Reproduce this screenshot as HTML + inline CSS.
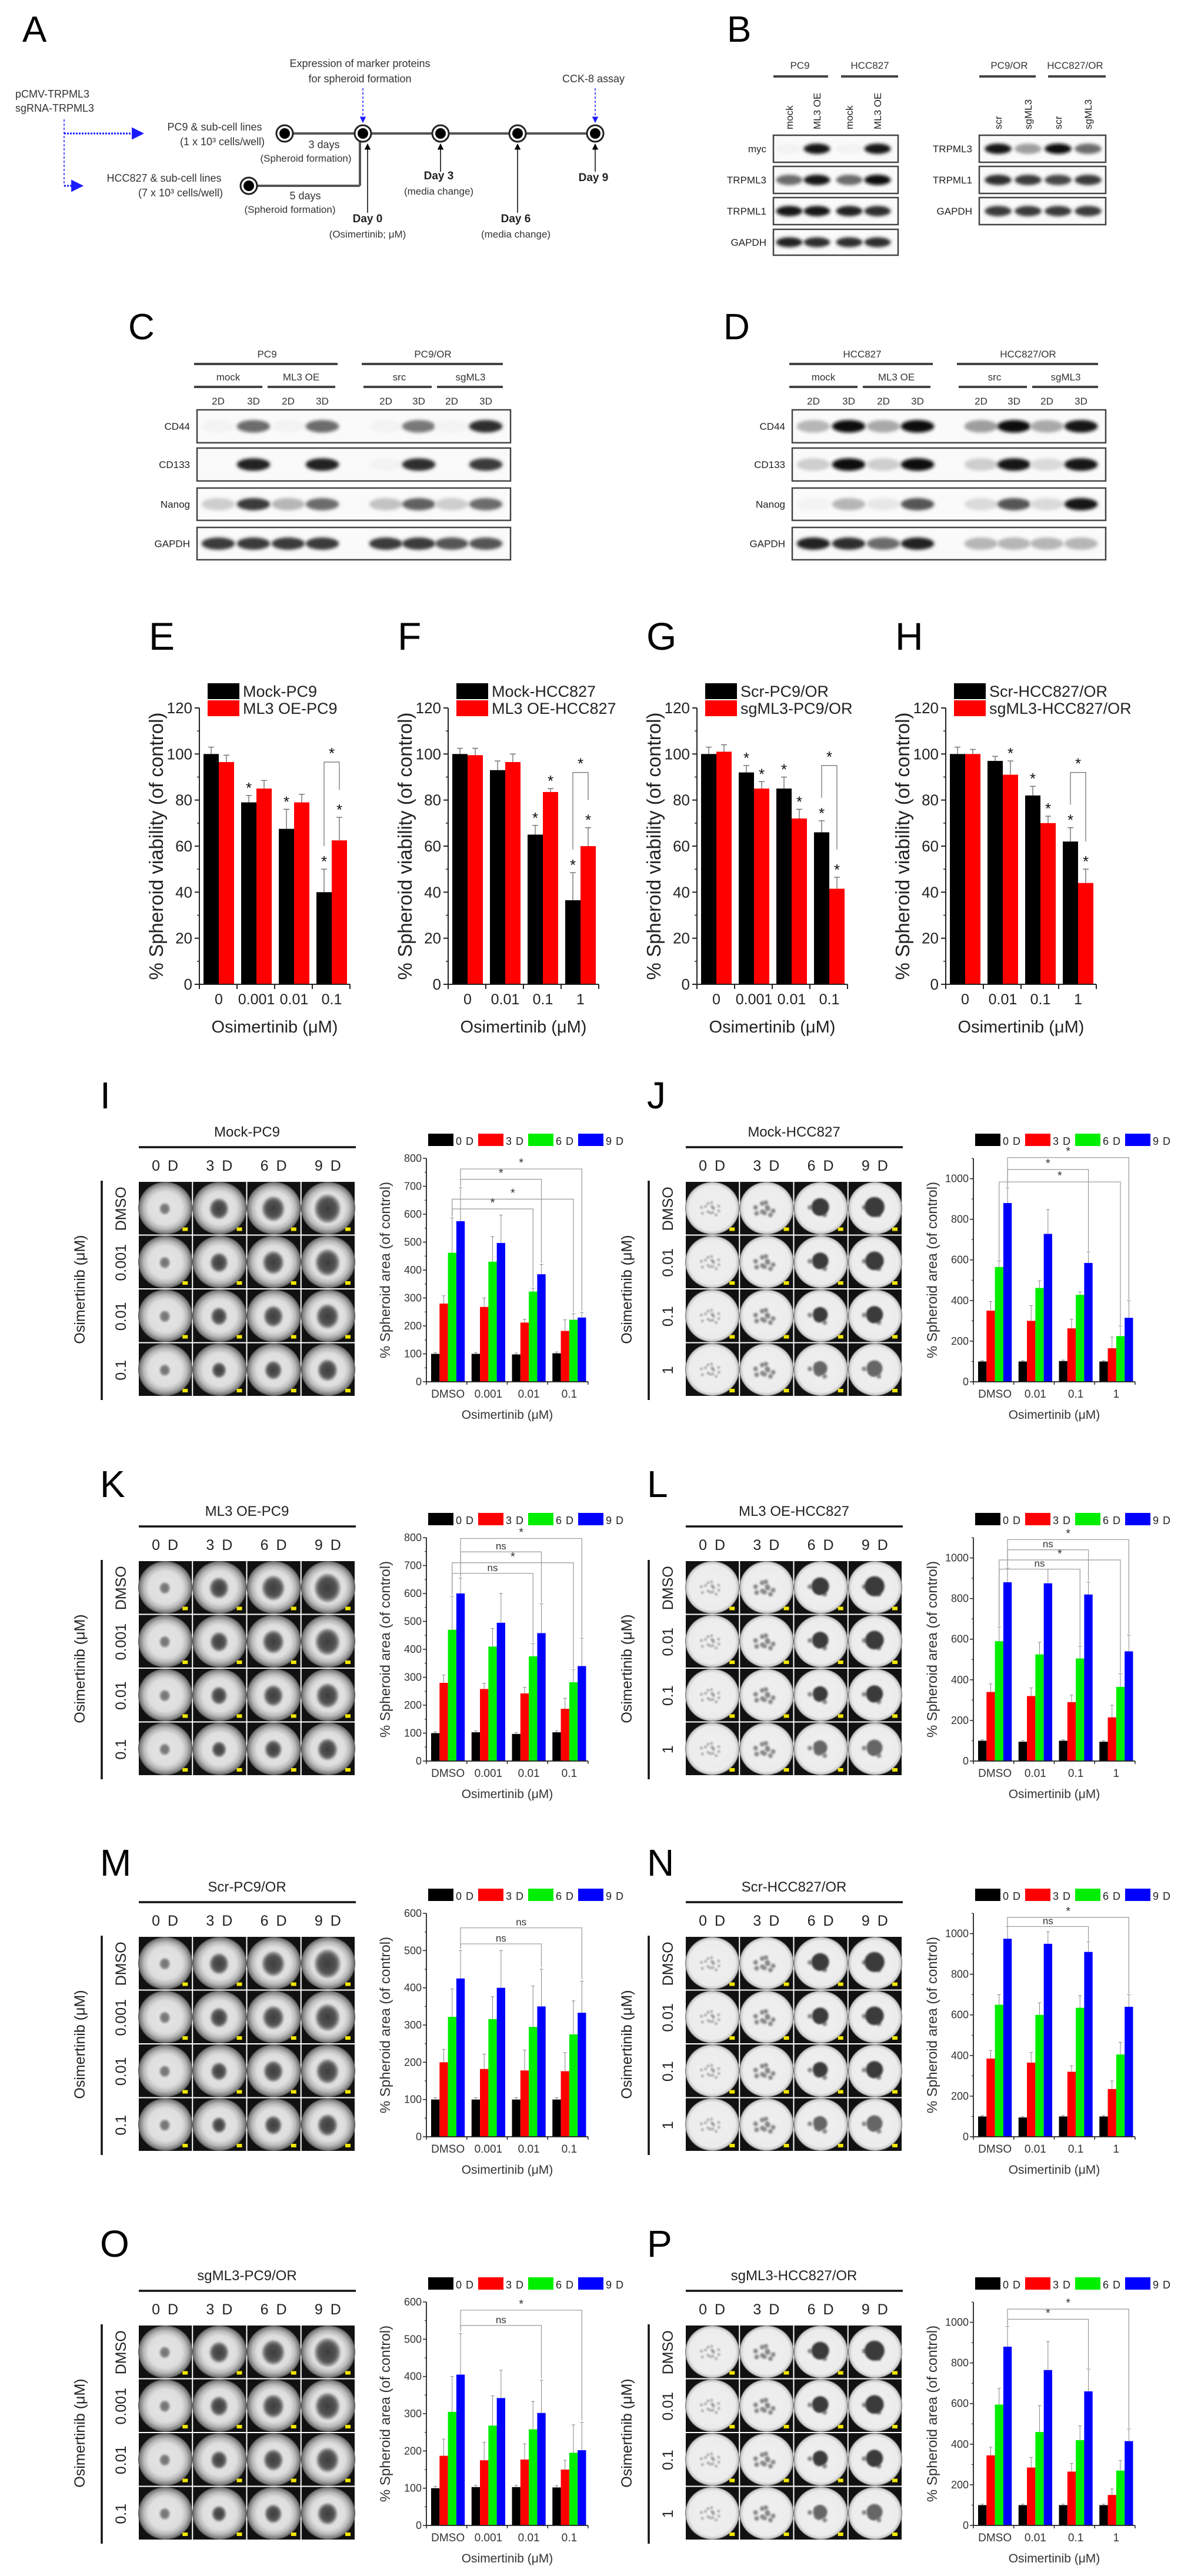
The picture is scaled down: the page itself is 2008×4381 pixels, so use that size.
<!DOCTYPE html>
<html><head><meta charset="utf-8">
<style>
html,body{margin:0;padding:0;background:#fff;}
svg{display:block;font-family:"Liberation Sans",Arial,sans-serif;}
</style></head>
<body>
<svg id="fig" xmlns="http://www.w3.org/2000/svg" width="2008" height="4381" viewBox="0 0 2008 4381">
<defs>
<filter id="blur3" x="-50%" y="-50%" width="200%" height="200%"><feGaussianBlur stdDeviation="3"/></filter>
<filter id="blur2" x="-50%" y="-50%" width="200%" height="200%"><feGaussianBlur stdDeviation="1.6"/></filter>
<radialGradient id="wellA" cx="50%" cy="50%" r="50%">
<stop offset="0" stop-color="#e6e6e6"/><stop offset="0.62" stop-color="#dedede"/><stop offset="0.8" stop-color="#b8b8b8"/><stop offset="0.95" stop-color="#7a7a7a"/><stop offset="1" stop-color="#444"/></radialGradient>
<radialGradient id="wellB" cx="50%" cy="50%" r="50%">
<stop offset="0" stop-color="#f0f0f0"/><stop offset="0.85" stop-color="#ececec"/><stop offset="0.96" stop-color="#c8c8c8"/><stop offset="1" stop-color="#555"/></radialGradient>
<radialGradient id="blobG" cx="50%" cy="50%" r="50%">
<stop offset="0" stop-color="#3c3c3c"/><stop offset="0.7" stop-color="#555"/><stop offset="1" stop-color="#888" stop-opacity="0.6"/></radialGradient>
<radialGradient id="blobG0" cx="50%" cy="50%" r="50%">
<stop offset="0" stop-color="#707070"/><stop offset="0.75" stop-color="#808080"/><stop offset="1" stop-color="#aaa" stop-opacity="0.6"/></radialGradient>
<marker id="arrBlk" viewBox="0 0 10 10" refX="9" refY="5" markerWidth="7" markerHeight="7" orient="auto"><path d="M0,0 L10,5 L0,10 z" fill="#000"/></marker>
<marker id="arrBlu" viewBox="0 0 10 10" refX="9" refY="5" markerWidth="7" markerHeight="7" orient="auto"><path d="M0,0 L10,5 L0,10 z" fill="#1a1aff"/></marker>
</defs>
</svg>
<script>
// ===== Viability charts E-H data =====
const catsE = ['0','0.001','0.01','0.1'];
const mockE = [100,79,67.5,40];
const oeE = [96.5,85,79,62.5];
const mockEerr = [3,3,8.5,10];
const oeEerr = [3,3.5,3.5,10];
const catsF = ['0','0.01','0.1','1'];
const mockF = [100,93,65,36.5];
const oeF = [99.5,96.5,83.5,60];
const mockFerr = [2.5,4,4,12];
const oeFerr = [3,3.5,1.5,8];
const catsG = ['0','0.001','0.01','0.1'];
const scrG = [100,92,85,66];
const sgG = [101,85,72,41.5];
const scrGerr = [3,3,5,5];
const sgGerr = [3,3,4,5];
const catsH = ['0','0.01','0.1','1'];
const scrH = [100,97,82,62];
const sgH = [100,91,70,44];
const scrHerr = [3,2,4,6];
const sgHerr = [2,6,3,6];
const viaTicks = [0,20,40,60,80,100,120];
// ===== Spheroid area charts I-P data =====
const catsPC = ['DMSO','0.001','0.01','0.1'];
const catsHC = ['DMSO','0.01','0.1','1'];
const areaTicksA = [0,100,200,300,400,500,600,700,800];
const areaTicksB = [0,200,400,600,800,1000];
const areaTicksC = [0,100,200,300,400,500,600];
const iD0=[100,100,98,102], iD3=[280,268,212,182], iD6=[462,430,323,222], iD9=[575,497,385,230];
const iE3=[28,32,12,40], iE6=[125,90,12,22], iE9=[120,100,35,18];
const jD0=[100,100,102,100], jD3=[350,300,263,165], jD6=[565,462,428,225], jD9=[880,728,585,315];
const jE3=[45,75,45,55], jE6=[30,35,15,50], jE9=[75,120,55,85];
const kD0=[100,103,97,103], kD3=[280,258,242,187], kD6=[470,410,375,282], kD9=[600,495,458,340];
const kE3=[28,20,22,38], kE6=[120,65,45,45], kE9=[55,105,105,100];
const lD0=[100,95,100,95], lD3=[340,320,290,215], lD6=[590,525,505,365], lD9=[880,875,820,540];
const lE3=[40,40,35,60], lE6=[70,60,60,65], lE9=[70,70,60,80];
const mD0=[100,100,100,100], mD3=[200,182,178,176], mD6=[322,316,295,275], mD9=[425,400,350,333];
const mE3=[35,40,55,50], mE6=[75,60,110,90], mE9=[75,100,100,85];
const nD0=[100,95,100,100], nD3=[385,365,320,235], nD6=[650,600,635,405], nD9=[975,950,910,640];
const nE3=[40,50,30,40], nE6=[50,60,60,60], nE9=[60,60,50,60];
const oD0=[100,103,103,102], oD3=[187,175,177,150], oD6=[305,268,258,195], oD9=[405,342,302,202];
const oE3=[45,48,42,25], oE6=[95,80,75,75], oE9=[110,75,88,75];
const pD0=[100,100,100,100], pD3=[345,285,265,150], pD6=[595,460,420,270], pD9=[880,765,660,415];
const pE3=[40,50,40,30], pE6=[80,130,70,50], pE9=[100,140,110,60];
const e0=[5,5,5,5];
// brackets: [group1, bar1, group2, bar2, level, label]
const iBr=[[0,3,3,3,762,'*'],[0,3,2,3,725,'*'],[0,2,3,2,654,'*'],[0,2,2,2,619,'*']];
const jBr=[[0,3,3,3,1104,'*'],[0,3,2,3,1045,'*'],[0,2,3,2,984,'*']];
const kBr=[[0,3,3,3,797,'*'],[0,3,2,3,749,'ns'],[0,2,3,2,710,'*'],[0,2,2,2,672,'ns']];
const lBr=[[0,3,3,3,1090,'*'],[0,3,2,3,1040,'ns'],[0,2,3,2,990,'*'],[0,2,2,2,945,'ns']];
const mBr=[[0,3,3,3,561,'ns'],[0,3,2,3,518,'ns']];
const nBr=[[0,3,3,3,1080,'*'],[0,3,2,3,1035,'ns']];
const oBr=[[0,3,3,3,578,'*'],[0,3,2,3,537,'ns']];
const pBr=[[0,3,3,3,1065,'*'],[0,3,2,3,1015,'*']];

const NS='http://www.w3.org/2000/svg';
const svg=document.getElementById('fig');
function mk(tag, attrs, name, parent){
  const e=document.createElementNS(NS,tag);
  for(const k in attrs) e.setAttribute(k, attrs[k]);
  
  
  (parent||svg).appendChild(e);
  return e;
}
function txt(x,y,s,size,name,opt){
  opt=opt||{};
  const a={x:x,y:y,'font-size':size,fill:opt.fill||'#111','text-anchor':opt.anchor||'middle'};
  if(opt.weight) a['font-weight']=opt.weight;
  if(opt.rot!==undefined) a.transform='rotate('+opt.rot+' '+x+' '+y+')';
  if(opt.ls) a['letter-spacing']=opt.ls;
  const t=mk('text',a,name,opt.parent);
  t.textContent=s;
  return t;
}
function line(x1,y1,x2,y2,w,col,name,extra){
  const a={x1:x1,y1:y1,x2:x2,y2:y2,stroke:col||'#000','stroke-width':w};
  if(extra) for(const k in extra) a[k]=extra[k];
  return mk('line',a,name);
}

// ================= Panel A =================
txt(38,71,'A',62,'panel-label-a',{anchor:'start',fill:'#000'});
txt(26,166,'pCMV-TRPML3',18,'construct-label-overexpression',{anchor:'start',fill:'#333'});
txt(26,190,'sgRNA-TRPML3',18,'construct-label-knockout',{anchor:'start',fill:'#333'});
line(109,203,109,316,1.5,'#1a1aff','blue-dashed-branch',{'stroke-dasharray':'4 3'});
line(109,227,243,227,3,'#1a1aff','blue-arrow-pc9',{'stroke-dasharray':'3 2','marker-end':'url(#arrBlu)'});
line(109,316,140,316,3,'#1a1aff','blue-arrow-hcc827',{'stroke-dasharray':'3 2','marker-end':'url(#arrBlu)'});
txt(365,222,'PC9 & sub-cell lines',18,'pc9-seeding-label',{fill:'#333'});
txt(378,247,'(1 x 10³ cells/well)',18,'pc9-density-label',{fill:'#333'});
txt(279,309,'HCC827 & sub-cell lines',18,'hcc827-seeding-label',{fill:'#333'});
txt(307,334,'(7 x 10³ cells/well)',18,'hcc827-density-label',{fill:'#333'});
line(484,227,1012,227,4,'#555','timeline-line');
line(423,316,612,316,4,'#555','hcc827-timeline-line');
line(612,316,612,240,4,'#555','hcc827-timeline-riser');
const tlX=[484,617,749,880,1012];
tlX.forEach((x,i)=>{
  mk('circle',{cx:x,cy:227,r:14,fill:'#fff',stroke:'#222','stroke-width':3},'timeline-node');
  mk('circle',{cx:x,cy:227,r:9,fill:'#000'},'timeline-node-core');
});
mk('circle',{cx:423,cy:316,r:14,fill:'#fff',stroke:'#222','stroke-width':3},'hcc827-start-node');
mk('circle',{cx:423,cy:316,r:9,fill:'#000'},'hcc827-start-node-core');
txt(551,252,'3 days',18,'pc9-spheroid-days',{fill:'#333'});
txt(520,275,'(Spheroid formation)',17,'pc9-spheroid-note',{fill:'#333'});
txt(519,339,'5 days',18,'hcc827-spheroid-days',{fill:'#333'});
txt(493,362,'(Spheroid formation)',17,'hcc827-spheroid-note',{fill:'#333'});
line(625,362,625,245,1.5,'#000','day0-arrow',{'marker-end':'url(#arrBlk)'});
line(749,292,749,245,1.5,'#000','day3-arrow',{'marker-end':'url(#arrBlk)'});
line(880,362,880,245,1.5,'#000','day6-arrow',{'marker-end':'url(#arrBlk)'});
line(1012,292,1012,245,1.5,'#000','day9-arrow',{'marker-end':'url(#arrBlk)'});
txt(625,378,'Day 0',19,'day0-label',{weight:'bold',fill:'#222'});
txt(625,404,'(Osimertinib; μM)',17,'day0-note',{fill:'#333'});
txt(746,305,'Day 3',19,'day3-label',{weight:'bold',fill:'#222'});
txt(746,331,'(media change)',17,'day3-note',{fill:'#333'});
txt(877,378,'Day 6',19,'day6-label',{weight:'bold',fill:'#222'});
txt(877,404,'(media change)',17,'day6-note',{fill:'#333'});
txt(1009,308,'Day 9',19,'day9-label',{weight:'bold',fill:'#222'});
txt(612,114,'Expression of marker proteins',18,'marker-expression-label',{fill:'#333'});
txt(612,140,'for spheroid formation',18,'marker-expression-label-2',{fill:'#333'});
txt(1009,140,'CCK-8 assay',18,'cck8-label',{fill:'#333'});
line(617,150,617,208,1.5,'#1a1aff','marker-blue-arrow',{'stroke-dasharray':'4 3','marker-end':'url(#arrBlu)'});
line(1012,150,1012,208,1.5,'#1a1aff','cck8-blue-arrow',{'stroke-dasharray':'4 3','marker-end':'url(#arrBlu)'});

// ================= Blots =================
function band(cx,cy,w,h,k,name){
  if(k<=0.02) return;
  const g=Math.round(255-k*245);
  mk('ellipse',{cx:cx,cy:cy,rx:w/2,ry:h/2,fill:'rgb('+g+','+g+','+g+')',filter:'url(#blur3)'},name);
}
function blotBox(x1,x2,y1,y2,label,lanes,ints,name){
  mk('rect',{x:x1,y:y1,width:x2-x1,height:y2-y1,fill:'#fafafa',stroke:'#444','stroke-width':2.5},name+'-box');
  const cy=(y1+y2)/2;
  lanes.forEach((lx,i)=>band(lx,cy,(x2-x1)/lanes.length*0.85,(y2-y1)*0.38,ints[i],name+'-band'));
  txt(x1-12,cy+6,label,17,name+'-label',{anchor:'end',fill:'#222'});
}
txt(1236,71,'B',62,'panel-label-b',{anchor:'start',fill:'#000'});
const bL1=[1342,1389,1444,1492], bL2=[1697,1748,1799,1850];
txt(1360,117,'PC9',17,'b-header-pc9',{fill:'#333'});
txt(1479,117,'HCC827',17,'b-header-hcc827',{fill:'#333'});
line(1315,130,1408,130,4,'#444','b-header-line-pc9');
line(1430,130,1527,130,4,'#444','b-header-line-hcc827');
txt(1716,117,'PC9/OR',17,'b-header-pc9or',{fill:'#333'});
txt(1828,117,'HCC827/OR',17,'b-header-hcc827or',{fill:'#333'});
line(1665,130,1761,130,4,'#444','b-header-line-pc9or');
line(1782,130,1880,130,4,'#444','b-header-line-hcc827or');
['mock','ML3 OE','mock','ML3 OE'].forEach((s,i)=>txt(bL1[i]+6,220,s,17,'b-lane-label',{anchor:'start',rot:-90,fill:'#222'}));
['scr','sgML3','scr','sgML3'].forEach((s,i)=>txt(bL2[i]+6,220,s,17,'b-lane-label',{anchor:'start',rot:-90,fill:'#222'}));
blotBox(1315,1527,230,276,'myc',bL1,[0.05,0.95,0.05,0.95],'b-blot-myc');
blotBox(1315,1527,283,329,'TRPML3',bL1,[0.6,0.95,0.6,1],'b-blot-trpml3');
blotBox(1315,1527,336,382,'TRPML1',bL1,[0.95,0.95,0.9,0.85],'b-blot-trpml1');
blotBox(1315,1527,390,434,'GAPDH',bL1,[0.9,0.85,0.85,0.85],'b-blot-gapdh');
blotBox(1665,1880,230,276,'TRPML3',bL2,[0.95,0.4,1,0.6],'b2-blot-trpml3');
blotBox(1665,1880,283,329,'TRPML1',bL2,[0.85,0.8,0.75,0.8],'b2-blot-trpml1');
blotBox(1665,1880,336,382,'GAPDH',bL2,[0.8,0.8,0.8,0.8],'b2-blot-gapdh');

function cdPanel(dx,letter,h1,h2,ints,pref){
  txt(218+dx,577,letter,62,'panel-label-'+pref,{anchor:'start',fill:'#000'});
  txt(454+dx,608,h1,17,pref+'-header-parent',{fill:'#333'});
  txt(736+dx,608,h2,17,pref+'-header-resistant',{fill:'#333'});
  line(330+dx,619,574+dx,619,4,'#444',pref+'-header-line');
  line(615+dx,619,855+dx,619,4,'#444',pref+'-header-line');
  [['mock',388],['ML3 OE',512],['src',679],['sgML3',800]].forEach(a=>txt(a[1]+dx,647,a[0],17,pref+'-group-label',{fill:'#333'}));
  [[330,446],[455,570],[618,734],[743,855]].forEach(a=>line(a[0]+dx,658,a[1]+dx,658,4,'#444',pref+'-group-line'));
  const lanes=[371,431,490,548,656,712,768,826].map(v=>v+dx);
  lanes.forEach((x,i)=>txt(x,688,i%2?'3D':'2D',17,pref+'-lane-label',{fill:'#333'}));
  blotBox(335+dx,868+dx,697,753,'CD44',lanes,ints[0],pref+'-blot-cd44');
  blotBox(335+dx,868+dx,762,818,'CD133',lanes,ints[1],pref+'-blot-cd133');
  blotBox(335+dx,868+dx,830,885,'Nanog',lanes,ints[2],pref+'-blot-nanog');
  blotBox(335+dx,868+dx,897,952,'GAPDH',lanes,ints[3],pref+'-blot-gapdh');
}
cdPanel(0,'C','PC9','PC9/OR',[[0.05,0.6,0.05,0.6,0.05,0.55,0.05,0.85],[0,0.9,0,0.9,0.05,0.85,0,0.8],[0.2,0.8,0.3,0.6,0.25,0.65,0.2,0.6],[0.8,0.8,0.8,0.8,0.8,0.8,0.7,0.7]],'c');
cdPanel(1012,'D','HCC827','HCC827/OR',[[0.3,1,0.35,1,0.4,1,0.35,0.95],[0.2,1,0.2,1,0.2,0.95,0.15,0.95],[0.05,0.3,0.1,0.7,0.15,0.7,0.15,0.95],[0.9,0.85,0.6,0.9,0.3,0.3,0.3,0.3]],'d');

// ================= Viability charts E-H =================
function viaChart(x0,letter,cats,s1,s2,e1,e2,leg1,leg2,st1,st2,pref){
  const x1=x0+256, yT=1204, yZ=1674, max=120;
  const Y=v=>yZ-(v/max)*(yZ-yT);
  const gw=(x1-x0)/cats.length, bw=26, off=7;
  txt(x0-86,1105,letter,66,'panel-label-'+pref,{anchor:'start',fill:'#000'});
  mk('rect',{x:x0+14,y:1162,width:54,height:27,fill:'#000'},pref+'-legend-swatch-1');
  mk('rect',{x:x0+14,y:1191,width:54,height:27,fill:'#ff0000'},pref+'-legend-swatch-2');
  txt(x0+74,1185,leg1,27,pref+'-legend-entry-1',{anchor:'start',fill:'#222'});
  txt(x0+74,1214,leg2,27,pref+'-legend-entry-2',{anchor:'start',fill:'#222'});
  [s1,s2].forEach((s,k)=>{
    const errs=k?e2:e1, stars=k?st2:st1;
    s.forEach((v,i)=>{
      const bx=x0+i*gw+off+k*bw;
      mk('rect',{x:bx,y:Y(v),width:bw,height:yZ-Y(v),fill:k?'#ff0000':'#000'},pref+'-bar-'+(k?'red':'black')+'-'+i);
      const cx=bx+bw/2, top=Y(v+errs[i]);
      line(cx,Y(v),cx,top,1.3,'#666',pref+'-error-bar');
      line(cx-5,top,cx+5,top,1.3,'#666',pref+'-error-cap');
      if(stars[i]) txt(cx,top-4,'*',26,pref+'-sig-star',{fill:'#111'});
    });
  });
  const g=cats.length-1;
  const cxa=x0+g*gw+off+bw/2, cxb=cxa+bw;
  const topb=Math.max(s1[g]+e1[g],s2[g]+e2[g])+24;
  const yb=Y(topb);
  mk('path',{d:'M'+cxa+','+Y(s1[g]+e1[g]+10)+' L'+cxa+','+yb+' L'+cxb+','+yb+' L'+cxb+','+Y(s2[g]+e2[g]+12),fill:'none',stroke:'#777','stroke-width':1.3},pref+'-bracket');
  txt((cxa+cxb)/2,yb-6,'*',26,pref+'-bracket-star',{fill:'#111'});
  line(x0,yT,x0,yZ,2,'#222',pref+'-y-axis');
  line(x0,yZ,x1,yZ,2,'#222',pref+'-x-axis');
  viaTicks.forEach(t=>{
    line(x0-8,Y(t),x0,Y(t),2,'#222',pref+'-y-tick');
    txt(x0-12,Y(t)+9,String(t),26,pref+'-y-tick-label',{anchor:'end',fill:'#222'});
    if(t<max) line(x0-4,Y(t+10),x0,Y(t+10),1.5,'#222',pref+'-y-minor-tick');
  });
  for(let i=0;i<=cats.length;i++) line(x0+i*gw,yZ,x0+i*gw,yZ+8,2,'#222',pref+'-x-tick');
  cats.forEach((c,i)=>txt(x0+i*gw+off+bw,1708,c,25,pref+'-x-tick-label',{fill:'#222'}));
  txt((x0+x1)/2,1756,'Osimertinib (μM)',29,pref+'-x-axis-title',{fill:'#222'});
  txt(x0-62,(yT+yZ)/2,'% Spheroid viability (of control)',33,pref+'-y-axis-title',{rot:-90,fill:'#222'});
}
viaChart(339,'E',catsE,mockE,oeE,mockEerr,oeEerr,'Mock-PC9','ML3 OE-PC9',[0,1,1,1],[0,0,0,1],'e');
viaChart(762,'F',catsF,mockF,oeF,mockFerr,oeFerr,'Mock-HCC827','ML3 OE-HCC827',[0,0,1,1],[0,0,1,1],'f');
viaChart(1185,'G',catsG,scrG,sgG,scrGerr,sgGerr,'Scr-PC9/OR','sgML3-PC9/OR',[0,1,1,1],[0,1,1,1],'g');
viaChart(1608,'H',catsH,scrH,sgH,scrHerr,sgHerr,'Scr-HCC827/OR','sgML3-HCC827/OR',[0,0,1,1],[0,1,1,1],'h');

// ================= Spheroid image grids =================
function spheroidGrid(dx,T,type,rowLabels,title,pref){
  const gx=236+dx, gy=T+87, cw=369/4, ch=366/4;
  txt(420+dx,T+10,title,24,pref+'-panel-title',{fill:'#222'});
  line(236+dx,T+28,605+dx,T+28,3.5,'#111',pref+'-title-line');
  ['0 D','3 D','6 D','9 D'].forEach((s,c)=>txt(gx+cw*c+cw/2,T+68,s,25,pref+'-day-label',{fill:'#222',ls:3}));
  line(173+dx,T+85,173+dx,T+458,3.5,'#111',pref+'-dose-bracket-line');
  txt(144+dx,T+270,'Osimertinib (μM)',25,pref+'-dose-axis-title',{rot:-90,fill:'#222'});
  const fac=[1,0.93,0.85,0.75];
  for(let r=0;r<4;r++){
    txt(205+dx+9,gy+ch*r+ch/2,rowLabels[r],25,pref+'-dose-label',{rot:-90,fill:'#222'});
    for(let c=0;c<4;c++){
      const x=gx+cw*c, y=gy+ch*r, cx=x+cw/2, cy=y+ch/2;
      mk('rect',{x:x,y:y,width:cw-2,height:ch-2,fill:'#111'},pref+'-image-cell');
      mk('ellipse',{cx:cx-1,cy:cy-1,rx:cw/2,ry:ch/2-1,fill:type==='A'?'url(#wellA)':'url(#wellB)'},pref+'-well');
      if(type==='A'){
        const rad=[9,16,19,22][c]*(c===0?1:fac[r]);
        mk('ellipse',{cx:cx-2,cy:cy,rx:rad,ry:rad*1.1,fill:c===0?'url(#blobG0)':'url(#blobG)',filter:'url(#blur2)'},pref+'-spheroid');
      } else {
        const n=[14,10,8,8][c];
        for(let k=0;k<n;k++){
          const a=k*2.39, d=4+ (k%5)*3.2;
          mk('circle',{cx:cx-3+Math.cos(a)*d,cy:cy+Math.sin(a)*d,r:[2,4,4,4][c],fill:'#888',filter:'url(#blur2)'},pref+'-cluster');
        }
        if(c>=2){
          const rad=[0,0,15,17][c]*(r<3?fac[r]:0.8);
          mk('ellipse',{cx:cx-2,cy:cy-3,rx:rad,ry:rad,fill:r===3?'#666':'#3a3a3a',filter:'url(#blur2)'},pref+'-spheroid-mass');
        }
      }
      mk('rect',{x:x+cw-18,y:y+ch-14,width:9,height:6,fill:'#f2e600'},pref+'-scale-bar');
    }
  }
}

// ================= Area charts I-P =================
const colors=['#000','#ff0000','#00ee00','#0000ff'];
function areaChart(dx,T,cats,d0,d3,d6,d9,er0,er3,er6,er9,max,ticks,brs,pref){
  const x0=725+dx, x1=1000+dx, yT=T+47, yZ=T+427;
  const Y=v=>yZ-(v/max)*(yZ-yT);
  const gw=(x1-x0)/4, bw=14.3, off=8;
  ['0 D','3 D','6 D','9 D'].forEach((s,i)=>{
    mk('rect',{x:x0+3+i*85,y:T+5,width:43,height:21,fill:colors[i]},pref+'-legend-swatch');
    txt(x0+50+i*85,T+24,s,18,pref+'-legend-entry',{anchor:'start',fill:'#222',ls:1});
  });
  const ser=[d0,d3,d6,d9], errs=[er0,er3,er6,er9];
  const bx=(g,b)=>x0+g*gw+off+b*bw;
  ser.forEach((s,k)=>s.forEach((v,i)=>{
    const x=bx(i,k);
    mk('rect',{x:x,y:Y(v),width:bw,height:yZ-Y(v),fill:colors[k]},pref+'-bar-day'+(k*3)+'-'+i);
    const cx=x+bw/2, top=Y(v+errs[k][i]);
    line(cx,Y(v),cx,top,1,'#888',pref+'-error-bar');
    line(cx-3,top,cx+3,top,1,'#888',pref+'-error-cap');
  }));
  brs.forEach(b=>{
    const xa=bx(b[0],b[1])+bw/2, xb=bx(b[2],b[3])+bw/2, yb=Y(b[4]);
    const ya=Y(ser[b[1]][b[0]]+errs[b[1]][b[0]]+5), yc=Y(ser[b[3]][b[2]]+errs[b[3]][b[2]]+5);
    mk('path',{d:'M'+xa+','+ya+' L'+xa+','+yb+' L'+xb+','+yb+' L'+xb+','+yc,fill:'none',stroke:'#999','stroke-width':1.2},pref+'-sig-bracket');
    txt((xa+xb)/2,yb-4,b[5],b[5]==='*'?20:17,pref+'-sig-label',{fill:'#333'});
  });
  line(x0,yT,x0,yZ,1.8,'#222',pref+'-y-axis');
  line(x0,yZ,x1,yZ,1.8,'#222',pref+'-x-axis');
  const step=ticks[1]-ticks[0];
  ticks.forEach(t=>{
    line(x0-6,Y(t),x0,Y(t),1.5,'#222',pref+'-y-tick');
    txt(x0-8,Y(t)+6,String(t),18,pref+'-y-tick-label',{anchor:'end',fill:'#333'});
    if(t+step/2<=max) line(x0-3,Y(t+step/2),x0,Y(t+step/2),1.2,'#222',pref+'-y-minor-tick');
  });
  for(let i=0;i<=4;i++) line(x0+i*gw,yZ,x0+i*gw,yZ+5,1.5,'#222',pref+'-x-tick');
  cats.forEach((c,i)=>txt(x0+i*gw+off+2*bw,T+454,c,19,pref+'-x-tick-label',{fill:'#333'}));
  txt((x0+x1)/2,T+490,'Osimertinib (μM)',21,pref+'-x-axis-title',{fill:'#333'});
  txt(x0-62,(yT+yZ)/2,'% Spheroid area (of control)',24,pref+'-y-axis-title',{rot:-90,fill:'#333'});
}
const rows=[
  {T:1923,lb:1885,L:'I',R:'J',tl:'Mock-PC9',tr:'Mock-HCC827'},
  {T:2568,lb:2546,L:'K',R:'L',tl:'ML3 OE-PC9',tr:'ML3 OE-HCC827'},
  {T:3207,lb:3190,L:'M',R:'N',tl:'Scr-PC9/OR',tr:'Scr-HCC827/OR'},
  {T:3868,lb:3838,L:'O',R:'P',tl:'sgML3-PC9/OR',tr:'sgML3-HCC827/OR'}];
rows.forEach(r=>{
  txt(170,r.lb,r.L,64,'panel-label-'+r.L.toLowerCase(),{anchor:'start',fill:'#000'});
  txt(1100,r.lb,r.R,64,'panel-label-'+r.R.toLowerCase(),{anchor:'start',fill:'#000'});
  spheroidGrid(0,r.T,'A',catsPC,r.tl,r.L.toLowerCase()+'-images');
  spheroidGrid(930,r.T,'B',catsHC,r.tr,r.R.toLowerCase()+'-images');
});
areaChart(0,1923,catsPC,iD0,iD3,iD6,iD9,e0,iE3,iE6,iE9,800,areaTicksA,iBr,'i');
areaChart(930,1923,catsHC,jD0,jD3,jD6,jD9,e0,jE3,jE6,jE9,1100,areaTicksB,jBr,'j');
areaChart(0,2568,catsPC,kD0,kD3,kD6,kD9,e0,kE3,kE6,kE9,800,areaTicksA,kBr,'k');
areaChart(930,2568,catsHC,lD0,lD3,lD6,lD9,e0,lE3,lE6,lE9,1100,areaTicksB,lBr,'l');
areaChart(0,3207,catsPC,mD0,mD3,mD6,mD9,e0,mE3,mE6,mE9,600,areaTicksC,mBr,'m');
areaChart(930,3207,catsHC,nD0,nD3,nD6,nD9,e0,nE3,nE6,nE9,1100,areaTicksB,nBr,'n');
areaChart(0,3868,catsPC,oD0,oD3,oD6,oD9,e0,oE3,oE6,oE9,600,areaTicksC,oBr,'o');
areaChart(930,3868,catsHC,pD0,pD3,pD6,pD9,e0,pE3,pE6,pE9,1100,areaTicksB,pBr,'p');
</script>
</body></html>
